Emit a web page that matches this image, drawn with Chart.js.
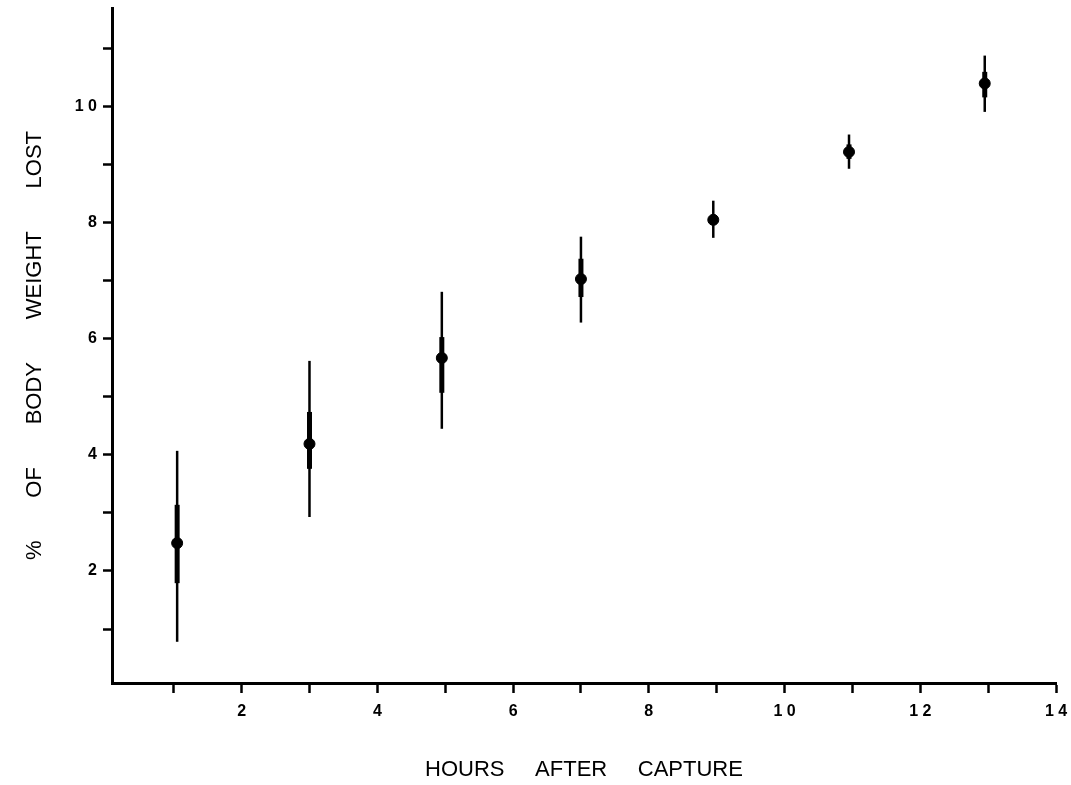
<!DOCTYPE html>
<html>
<head>
<meta charset="utf-8">
<script src="https://cdn.jsdelivr.net/npm/chart.js@4.4.1/dist/chart.umd.min.js"></script>
<style>
  html, body { margin: 0; padding: 0; background: #ffffff; }
  #wrap { width: 1071px; height: 785px; position: relative; }
</style>
</head>
<body>
<div id="wrap"><canvas id="c" width="1071" height="785"></canvas></div>
<script>
// ---- Data ----
const hoursAfterCapture = [1.05, 3, 4.95, 7, 8.95, 10.95, 12.95];
const meanPctLost      = [2.48, 4.19, 5.67, 7.03, 8.05, 9.22, 10.40];
const outerLow         = [0.78, 2.93, 4.45, 6.28, 7.74, 8.93, 9.91];
const outerHigh        = [4.07, 5.62, 6.81, 7.76, 8.38, 9.52, 10.88];
const innerLow         = [1.79, 3.76, 5.07, 6.72, 7.97, 9.10, 10.16];
const innerHigh        = [3.14, 4.74, 6.03, 7.38, 8.14, 9.35, 10.60];
const xTickValues = [1,2,3,4,5,6,7,8,9,10,11,12,13,14];
const xTickLabels = ['', '2', '', '4', '', '6', '', '8', '', '1 0', '', '1 2', '', '1 4'];
const yTickValues = [1,2,3,4,5,6,7,8,9,10,11];
const yTickLabels = ['', '2', '', '4', '', '6', '', '8', '', '1 0', ''];
const xTitle = 'HOURS     AFTER     CAPTURE';
const yTitle = '%       OF       BODY       WEIGHT       LOST';

const errorBarPlugin = {
  id: 'errorBars',
  beforeDatasetsDraw(chart) {
    const ctx = chart.ctx, xs = chart.scales.x, ys = chart.scales.y;
    ctx.save();
    ctx.strokeStyle = '#000';
    ctx.lineCap = 'butt';
    for (let i = 0; i < hoursAfterCapture.length; i++) {
      const px = xs.getPixelForValue(hoursAfterCapture[i]);
      ctx.lineWidth = 2.5;
      ctx.beginPath();
      ctx.moveTo(px, ys.getPixelForValue(outerLow[i]));
      ctx.lineTo(px, ys.getPixelForValue(outerHigh[i]));
      ctx.stroke();
      ctx.lineWidth = 5;
      ctx.beginPath();
      ctx.moveTo(px, ys.getPixelForValue(innerLow[i]));
      ctx.lineTo(px, ys.getPixelForValue(innerHigh[i]));
      ctx.stroke();
    }
    ctx.restore();
  }
};

const tickFont = { family: 'Liberation Sans, Arial, sans-serif', size: 16, weight: 'bold' };
const titleFont = { family: 'Liberation Sans, Arial, sans-serif', size: 22, weight: 'normal' };

new Chart(document.getElementById('c'), {
  type: 'scatter',
  data: {
    datasets: [{
      data: hoursAfterCapture.map((x, i) => ({ x: x, y: meanPctLost[i] })),
      backgroundColor: '#000',
      borderColor: '#000',
      pointRadius: 5.5,
      pointHoverRadius: 5.5
    }]
  },
  options: {
    responsive: false,
    animation: false,
    layout: { padding: { top: 8, right: 15, left: 0, bottom: 0 } },
    plugins: { legend: { display: false }, tooltip: { enabled: false } },
    scales: {
      x: {
        type: 'linear',
        min: 0.09,
        max: 14,
        afterBuildTicks(scale) { scale.ticks = xTickValues.map(v => ({ value: v })); },
        afterFit(scale) { scale.height = 102; scale.paddingLeft = 0; scale.paddingRight = 0; },
        border: { display: true, color: '#000', width: 3 },
        grid: { drawOnChartArea: false, drawTicks: true, tickLength: 10, tickWidth: 2.5, tickColor: '#000' },
        ticks: {
          color: '#000',
          font: tickFont,
          padding: 9,
          maxRotation: 0,
          autoSkip: false,
          callback: (v) => { const k = xTickValues.indexOf(v); return k >= 0 ? xTickLabels[k] : ''; }
        },
        title: { display: true, text: xTitle, color: '#000', font: titleFont, padding: { top: 0, bottom: 2 } }
      },
      y: {
        type: 'linear',
        min: 0.07,
        max: 11.7,
        afterBuildTicks(scale) { scale.ticks = yTickValues.map(v => ({ value: v })); },
        afterFit(scale) { scale.width = 112; scale.paddingTop = 0; scale.paddingBottom = 0; },
        border: { display: true, color: '#000', width: 3 },
        grid: { drawOnChartArea: false, drawTicks: true, tickLength: 9, tickWidth: 2.5, tickColor: '#000' },
        ticks: {
          color: '#000',
          font: tickFont,
          padding: 6,
          autoSkip: false,
          callback: (v) => { const k = yTickValues.indexOf(v); return k >= 0 ? yTickLabels[k] : ''; }
        },
        title: { display: true, text: yTitle, color: '#000', font: titleFont, padding: { top: 22, bottom: 0 } }
      }
    }
  },
  plugins: [errorBarPlugin]
});
</script>
</body>
</html>
